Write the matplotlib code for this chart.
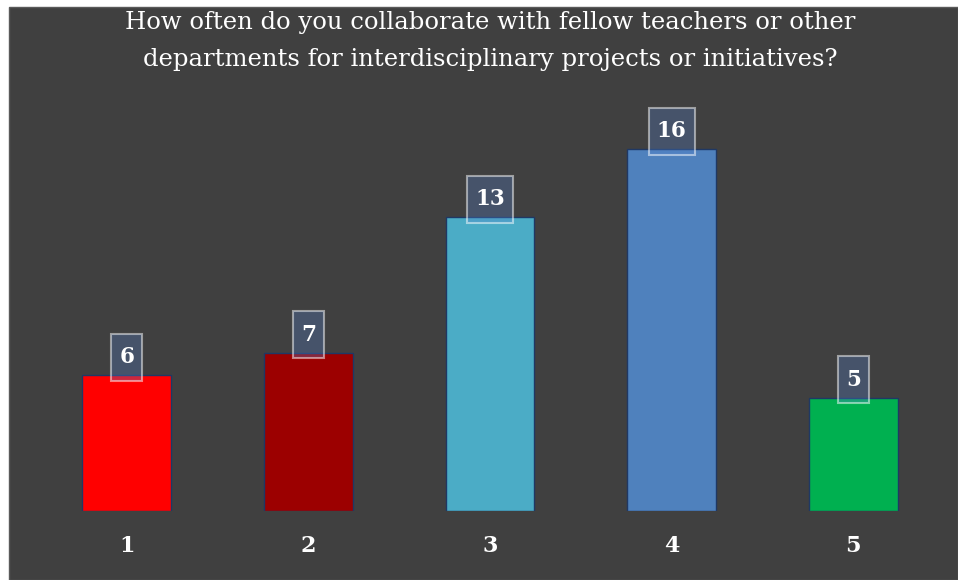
import matplotlib
matplotlib.use("Agg")
import matplotlib.pyplot as plt
from matplotlib.patches import Rectangle
from matplotlib.transforms import IdentityTransform

# Survey responses per rating
categories = ["1", "2", "3", "4", "5"]
counts = [6, 7, 13, 16, 5]
bar_colors = ["#FF0000", "#9C0000", "#4BACC6", "#4F81BD", "#00B050"]
title = ("How often do you collaborate with fellow teachers or other\n"
         "departments for interdisciplinary projects or initiatives?")

BG = "#404040"
FONT = "DejaVu Serif"

fig = plt.figure(figsize=(9.58, 5.8), dpi=100, facecolor="white")
# dark chart panel, offset inside a thin white frame
panel = Rectangle((9 / 958, 0), 949 / 958, 573 / 580,
                  transform=fig.transFigure, facecolor=BG,
                  edgecolor="#5a5a5a", linewidth=1.0, zorder=-5)
fig.add_artist(panel)

ax = fig.add_axes([36 / 958, 69 / 580, 908 / 958, 407 / 580])
ax.set_zorder(1)
ax.set_facecolor("none")
x = list(range(len(categories)))
ax.bar(x, counts, width=0.49, color=bar_colors, edgecolor="#1F3864",
       linewidth=1.0, zorder=2)
ax.set_xlim(-0.5, len(categories) - 0.5)
ax.set_ylim(0, 18)
ax.set_xticks(x)
ax.set_xticklabels(categories, fontfamily=FONT, fontweight="bold",
                   fontsize=16, color="white")
ax.tick_params(axis="x", length=0, pad=17)
ax.set_yticks([])
for s in ax.spines.values():
    s.set_visible(False)

labels = []
for xi, v in zip(x, counts):
    t = ax.annotate(str(v), (xi, v), xytext=(0, 13), textcoords="offset points",
                    ha="center", va="center", fontfamily=FONT, fontweight="bold",
                    fontsize=15.5, color="white", zorder=4)
    labels.append(t)

fig.text(490 / 958, 1 - 41 / 580, title, ha="center", va="center",
         fontfamily=FONT, fontsize=17.5, color="white", linespacing=1.8,
         zorder=2)

# translucent tag boxes behind the value labels (pixel-sized padding)
fig.canvas.draw()
renderer = fig.canvas.get_renderer()
for t in labels:
    bb = t.get_window_extent(renderer)
    cx, cy = (bb.x0 + bb.x1) / 2, (bb.y0 + bb.y1) / 2
    w, h = bb.width + 16, 47
    box = Rectangle((cx - w / 2, cy - h / 2), w, h, transform=IdentityTransform(),
                    facecolor=(0.33, 0.51, 0.80, 0.3),
                    edgecolor=(1, 1, 1, 0.5), linewidth=1.5, zorder=3)
    ax.add_artist(box)

fig.savefig("out.png", dpi=100, facecolor=fig.get_facecolor())
